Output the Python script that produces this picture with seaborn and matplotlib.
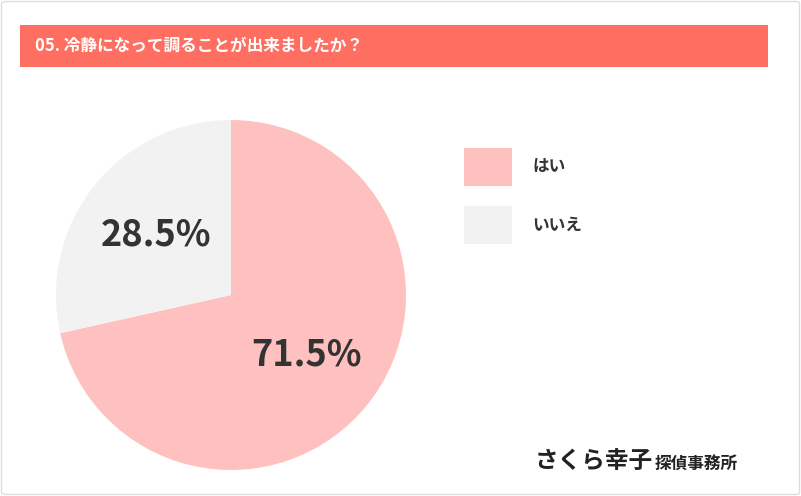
import matplotlib
matplotlib.use("Agg")
import matplotlib.pyplot as plt
from matplotlib.patches import FancyBboxPatch, Rectangle
import seaborn as sns

sns.set_theme(style="white")
plt.rcParams['font.family'] = ['Noto Sans CJK JP', 'DejaVu Sans']

title = "05. 冷静になって調ることが出来ましたか？"
labels = ["はい", "いいえ"]
values = [71.5, 28.5]
colors = ["#FFC1BF", "#F2F2F2"]

W, H = 801, 496
fig = plt.figure(figsize=(W/100, H/100), dpi=100)
fig.patch.set_facecolor("white")
fig.patches.append(FancyBboxPatch((1.5/W, 1.5/H), (W-3)/W, (H-3)/H,
    boxstyle="round,pad=0,rounding_size=0.005", transform=fig.transFigure,
    facecolor="white", edgecolor="#DDDDDD", lw=1, zorder=-10))
fig.patches.append(Rectangle((20/W, 1-67/H), 748/W, 42/H, transform=fig.transFigure,
    facecolor="#FF6F61", edgecolor="none"))
fig.text(35/W, 1-46/H, title, color="white", fontsize=12, fontweight="bold", va="center")

ax = fig.add_axes([56/W, 1-470/H, 350/W, 350/H])
ax.set_zorder(5)
ax.patch.set_alpha(0)
wedges, texts, autotexts = ax.pie(values, colors=colors, startangle=90, counterclock=False,
    autopct="%.1f%%", pctdistance=0.55, radius=1.0,
    textprops=dict(fontsize=26, fontweight="bold", color="#333333"),
    wedgeprops=dict(linewidth=0))
ax.set_xlim(-1, 1); ax.set_ylim(-1, 1); ax.set_aspect("equal")

for i, (lab, c) in enumerate(zip(labels, colors)):
    y0 = 148 + i*58
    fig.patches.append(Rectangle((464/W, 1-(y0+38)/H), 48/W, 38/H, transform=fig.transFigure,
        facecolor=c, edgecolor="none"))
    fig.text(532/W, 1-(y0+19)/H, lab, fontsize=12, fontweight="bold", color="#333333", va="center")

fig.text(535/W, 1-462/H, "さくら幸子", fontsize=17, fontweight="bold", style="italic", color="#222222", va="center")
fig.text(655/W, 1-464/H, "探偵事務所", fontsize=12, fontweight="bold", style="italic", color="#222222", va="center")

fig.savefig("out.png", dpi=100)
